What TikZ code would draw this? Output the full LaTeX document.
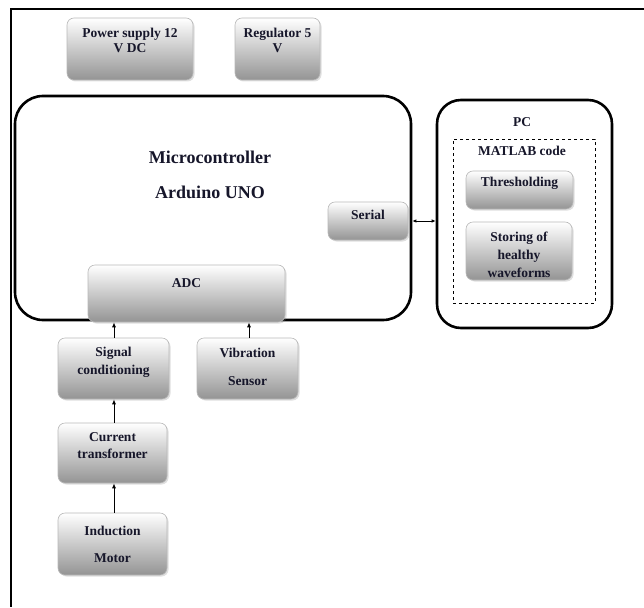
\documentclass[tikz,border=0pt]{standalone}
\usepackage{fontspec}
\setmainfont{Liberation Serif}
\usetikzlibrary{arrows.meta,shadows}

\definecolor{txtcol}{RGB}{22,22,42}

\tikzset{
    blk/.style={rectangle, rounded corners=7pt, draw=black!28, line width=0.6pt,
        top color=white, middle color=black!8, bottom color=black!42,
        drop shadow={shadow xshift=1.5pt, shadow yshift=-1.5pt, opacity=0.25}},
    bigbox/.style={rectangle, rounded corners=28pt, draw, line width=2.6pt},
    lbl/.style={font=\bfseries\fontsize{13.5}{16}\selectfont, text=txtcol, align=center},
    link/.style={-{Latex[length=5pt,width=4pt]}, line width=0.9pt},
}

\begin{document}
\begin{tikzpicture}[x=1pt, y=-1pt]
    \useasboundingbox (0,0) rectangle (644,607);
    \draw[line width=2.5pt] (644,9) -- (11,9) -- (11,607);

    % supply
    \node[blk, minimum width=126, minimum height=62] (psu) at (130,49) {};
    \node[lbl] (psu-t) at (130,40) {Power supply 12\\[-1pt]V DC};
    \node[blk, minimum width=85, minimum height=62] (reg) at (277.5,49) {};
    \node[lbl] (reg-t) at (277.5,40) {Regulator 5\\[-1pt]V};

    % microcontroller
    \node[bigbox, minimum width=396, minimum height=224] (mcu) at (213,208) {};
    \node[lbl, font=\bfseries\fontsize{18}{22}\selectfont] (mcu-t) at (210,175) {Microcontroller\\[13pt]Arduino UNO};
    \node[blk, minimum width=80, minimum height=38] (ser) at (368,221) {};
    \node[lbl] (ser-t) at (368,215) {Serial};
    \node[blk, minimum width=197, minimum height=57] (adc) at (186.5,293.5) {};
    \node[lbl] (adc-t) at (186.5,283) {ADC};

    % pc
    \node[bigbox, rounded corners=24pt, minimum width=175, minimum height=228] (pc) at (524.5,214) {};
    \node[lbl] (pc-t) at (522,122) {PC};
    \node[rectangle, draw, dashed, line width=0.8pt, minimum width=142, minimum height=164] (mat) at (524,221) {};
    \node[lbl] (mat-t) at (522,151) {MATLAB code};
    \node[blk, minimum width=107, minimum height=38] (thr) at (519.5,190) {};
    \node[lbl] (thr-t) at (519.5,183) {Thresholding};
    \node[blk, minimum width=106, minimum height=58] (sto) at (519,251) {};
    \node[lbl, font=\bfseries\fontsize{13.5}{18}\selectfont] (sto-t) at (519,255) {Storing of\\healthy\\waveforms};

    % sensors
    \node[blk, minimum width=111, minimum height=61] (sig) at (113.5,368.5) {};
    \node[lbl] (sig-t) at (113.5,362) {Signal\\[2pt]conditioning};
    \node[blk, minimum width=101, minimum height=61] (vib) at (247.5,368.5) {};
    \node[lbl] (vib-t) at (247.5,367) {Vibration\\[12pt]Sensor};
    \node[blk, minimum width=109, minimum height=60] (ct) at (112.5,453) {};
    \node[lbl] (ct-t) at (112.5,446) {Current\\[1pt]transformer};
    \node[blk, minimum width=109, minimum height=62] (im) at (112.5,544) {};
    \node[lbl] (im-t) at (112.5,544) {Induction\\[11pt]Motor};

    \draw[link] (sig.north -| 114,0) -- (adc.south -| 114,0);
    \draw[link] (vib.north -| 249,0) -- (adc.south -| 249,0);
    \draw[link] (ct.north -| 114,0) -- (sig.south -| 114,0);
    \draw[link] (im.north -| 114,0) -- (ct.south -| 114,0);
    \draw[{Latex[length=4pt,width=3.5pt]}-{Latex[length=4pt,width=3.5pt]}, line width=0.8pt] (ser.east -| mcu.east) -- (ser.east -| pc.west);
\end{tikzpicture}
\end{document}
